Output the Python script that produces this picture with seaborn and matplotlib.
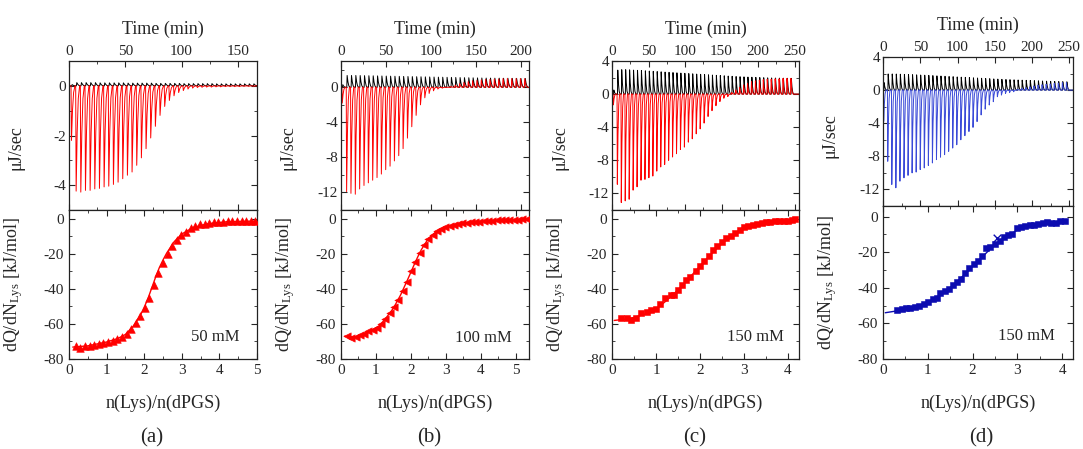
import numpy as np
import pandas as pd
import seaborn as sns
import matplotlib.pyplot as plt
from matplotlib.ticker import MultipleLocator

sns.set_style("ticks")
plt.rcParams['font.family'] = ['Liberation Serif', 'DejaVu Serif']
plt.rcParams['mathtext.default'] = 'regular'
plt.rcParams['axes.unicode_minus'] = False

# ---- raw ITC thermograms: peak height of each injection (uJ/sec) ----
a_start, a_interval = 1.8, 4.14
a_sample = [-2.2, -4.24, -4.28, -4.21, -4.21, -4.15, -4.13, -4.07, -4.04, -3.97,
            -3.88, -3.74, -3.6, -3.47, -3.2, -2.9, -2.53, -2.1, -1.63, -1.19,
            -0.83, -0.59, -0.4, -0.27, -0.19, -0.13, -0.09, -0.07, -0.06, -0.05,
            -0.05, -0.04, -0.04, -0.03, -0.03, -0.03, -0.03, -0.02, -0.02, -0.02]
a_reference = [0.05, 0.13, 0.13, 0.13, 0.13, 0.13, 0.12, 0.12, 0.12, 0.12,
               0.12, 0.12, 0.11, 0.11, 0.11, 0.11, 0.11, 0.11, 0.10, 0.10,
               0.10, 0.10, 0.10, 0.10, 0.09, 0.09, 0.09, 0.09, 0.09, 0.09,
               0.09, 0.08, 0.08, 0.08, 0.08, 0.08, 0.08, 0.08, 0.08, 0.08]

b_start, b_interval = 1.0, 4.83
b_sample = [-1.8, -11.9, -12.1, -12.2, -11.6, -11.2, -10.9, -10.6, -10.3, -9.9,
            -9.4, -9.0, -8.4, -7.8, -7.0, -5.8, -4.5, -3.2, -2.0, -1.2,
            -0.7, -0.4, -0.2, -0.1, 0.0, 0.1, 0.25, 0.4, 0.55, 0.65,
            0.75, 0.8, 0.85, 0.9, 0.9, 0.95, 0.95, 1.0, 1.0, 1.0, 1.0, 1.0, 1.0]
b_reference = [0.3, 1.35, 1.35, 1.35, 1.34, 1.33, 1.32, 1.31, 1.30, 1.29,
               1.28, 1.27, 1.26, 1.25, 1.24, 1.23, 1.22, 1.21, 1.20, 1.19,
               1.18, 1.17, 1.16, 1.15, 1.14, 1.13, 1.12, 1.11, 1.10, 1.09,
               1.08, 1.07, 1.06, 1.05, 1.05, 1.04, 1.04, 1.03, 1.03, 1.02,
               1.02, 1.01, 1.01]

c_start, c_interval = 1.5, 5.4
c_sample = [-1.3, -10.9, -13.1, -12.9, -12.7, -11.6, -11.2, -10.4, -10.3, -10.1,
            -9.9, -9.3, -8.8, -8.5, -8.0, -7.6, -7.2, -6.7, -6.4, -5.8,
            -5.4, -4.8, -4.2, -3.5, -2.7, -2.0, -1.4, -0.9, -0.5, -0.3,
            0.2, 0.5, 0.8, 1.1, 1.3, 1.5, 1.6, 1.7, 1.75, 1.8,
            1.8, 1.85, 1.85, 1.9, 1.9, 1.9]
c_reference = [0.5, 2.9, 2.95, 2.95, 2.93, 2.9, 2.87, 2.84, 2.81, 2.78,
               2.75, 2.72, 2.69, 2.66, 2.63, 2.6, 2.57, 2.54, 2.51, 2.48,
               2.45, 2.42, 2.39, 2.36, 2.33, 2.30, 2.27, 2.24, 2.21, 2.18,
               2.15, 2.12, 2.10, 2.08, 2.06, 2.04, 2.02, 2.0, 1.98, 1.96,
               1.95, 1.94, 1.93, 1.92, 1.91, 1.90]

d_start, d_interval = 0.5, 5.45
d_sample = [-3.8, -8.6, -11.4, -11.8, -11.0, -10.6, -10.3, -10.0, -9.9, -9.6,
            -9.4, -9.1, -8.8, -8.4, -8.1, -7.8, -7.4, -7.0, -6.6, -6.0,
            -5.5, -5.0, -4.5, -3.8, -3.0, -2.3, -1.8, -1.4, -0.8, -0.6,
            -0.4, -0.3, -0.2, 0.1, 0.2, 0.3, 0.4, 0.5, 0.6, 0.65,
            0.7, 0.75, 0.8, 0.85, 0.9, 0.9]
d_reference = [0.9, 1.95, 1.95, 1.94, 1.92, 1.90, 1.88, 1.86, 1.84, 1.82,
               1.80, 1.78, 1.75, 1.72, 1.70, 1.67, 1.64, 1.62, 1.59, 1.56,
               1.54, 1.51, 1.48, 1.46, 1.43, 1.40, 1.38, 1.35, 1.33, 1.30,
               1.28, 1.26, 1.24, 1.22, 1.20, 1.18, 1.16, 1.14, 1.12, 1.10,
               1.08, 1.06, 1.04, 1.03, 1.02, 1.00]

# ---- integrated heats (kJ/mol) vs molar ratio ----
a_ratio = [0.18, 0.30, 0.42, 0.55, 0.67, 0.79, 0.91, 1.04, 1.16, 1.28,
           1.40, 1.53, 1.65, 1.77, 1.89, 2.02, 2.14, 2.26, 2.38, 2.50,
           2.63, 2.75, 2.87, 2.99, 3.12, 3.24, 3.36, 3.48, 3.61, 3.73,
           3.85, 3.97, 4.10, 4.22, 4.34, 4.46, 4.59, 4.71, 4.83, 4.95]
a_heat = [-72.5, -73.5, -72.8, -72.3, -71.8, -71.5, -70.8, -70.2, -69.5, -68.8,
          -67.5, -65.5, -63.0, -59.5, -55.5, -51.0, -45.0, -38.0, -31.0, -25.0,
          -20.0, -15.5, -12.0, -9.5, -7.5, -5.5, -4.0, -3.2, -2.8, -2.3,
          -2.0, -1.8, -1.6, -1.5, -1.3, -1.0, -1.3, -1.4, -1.4, -1.3]
a_fit_x = [0.1, 0.5, 1.0, 1.3, 1.5, 1.7, 1.9, 2.0, 2.1, 2.2,
           2.3, 2.4, 2.5, 2.6, 2.8, 3.0, 3.3, 3.7, 4.2, 5.0]
a_fit_y = [-73.2, -72.5, -70.3, -68.3, -66.0, -61.5, -55.0, -50.5, -45.5, -39.5,
           -33.5, -28.0, -23.5, -19.5, -13.0, -8.7, -5.0, -2.8, -1.7, -1.3]

b_ratio = [0.17, 0.29, 0.42, 0.54, 0.66, 0.78, 0.91, 1.03, 1.15, 1.27,
           1.39, 1.52, 1.64, 1.76, 1.88, 2.01, 2.13, 2.25, 2.37, 2.49,
           2.62, 2.74, 2.86, 2.98, 3.11, 3.23, 3.35, 3.47, 3.60, 3.72,
           3.84, 3.96, 4.08, 4.21, 4.33, 4.45, 4.57, 4.70, 4.82, 4.94,
           5.06, 5.19, 5.31]
b_heat = [-67.0, -67.8, -67.5, -66.5, -65.5, -64.3, -63.5, -62.5, -60.0, -57.0,
          -54.0, -50.5, -46.5, -41.0, -36.0, -30.0, -24.5, -19.5, -15.0, -11.5,
          -9.0, -7.0, -5.8, -4.8, -4.0, -3.5, -3.0, -2.7, -2.4, -2.1,
          -1.9, -1.7, -1.5, -1.2, -1.0, -0.9, -0.8, -0.7, -0.6, -0.5,
          -0.5, -0.4, -0.4]
b_fit_x = [0.1, 0.4, 0.8, 1.1, 1.3, 1.5, 1.7, 1.9, 2.0, 2.1,
           2.2, 2.3, 2.5, 2.7, 2.9, 3.2, 3.6, 4.2, 5.38]
b_fit_y = [-67.0, -67.5, -64.5, -61.0, -56.3, -51.0, -43.7, -35.0, -30.5, -25.9,
           -21.6, -17.6, -11.3, -7.7, -5.5, -3.6, -2.2, -1.2, -0.4]

c_ratio = [0.20, 0.34, 0.44, 0.54, 0.65, 0.79, 0.88, 0.99, 1.10, 1.20,
           1.33, 1.40, 1.50, 1.60, 1.69, 1.78, 1.90, 1.99, 2.08, 2.20,
           2.29, 2.38, 2.50, 2.59, 2.70, 2.80, 2.90, 3.00, 3.10, 3.20,
           3.30, 3.40, 3.50, 3.60, 3.70, 3.80, 3.90, 4.00, 4.10, 4.17]
c_heat = [-56.6, -56.6, -57.6, -56.6, -53.8, -53.2, -52.3, -51.5, -48.5, -45.0,
          -43.3, -43.3, -40.5, -37.6, -34.8, -33.3, -30.0, -27.2, -24.3, -21.0,
          -17.7, -15.8, -13.5, -11.0, -9.7, -8.2, -6.3, -4.8, -4.0, -3.6,
          -3.0, -2.5, -2.1, -1.9, -1.5, -1.3, -1.1, -1.0, -0.6, -0.2]
c_fit_x = [0.05, 0.4, 0.8, 1.0, 1.2, 1.4, 1.6, 1.8, 2.0, 2.2,
           2.4, 2.6, 2.8, 3.0, 3.2, 3.5, 3.8, 4.2]
c_fit_y = [-58.0, -57.0, -54.0, -51.5, -47.5, -43.0, -38.0, -32.5, -27.0, -21.5,
           -16.5, -12.0, -8.5, -5.5, -3.8, -2.3, -1.4, -0.6]

d_ratio = [0.32, 0.42, 0.52, 0.60, 0.72, 0.81, 0.92, 1.01, 1.11, 1.20,
           1.28, 1.38, 1.48, 1.56, 1.65, 1.75, 1.84, 1.93, 2.02, 2.12,
           2.21, 2.30, 2.39, 2.49, 2.60, 2.69, 2.78, 2.88, 2.98, 3.08,
           3.17, 3.28, 3.37, 3.47, 3.57, 3.67, 3.76, 3.87, 3.96, 4.07]
d_heat = [-52.4, -51.9, -51.1, -51.5, -50.6, -50.2, -49.3, -47.8, -46.4, -45.5,
          -42.7, -41.6, -40.8, -38.4, -36.5, -35.2, -31.5, -29.0, -26.8, -24.9,
          -22.1, -17.8, -16.9, -15.4, -13.5, -11.6, -10.3, -9.7, -6.6, -6.0,
          -5.1, -4.7, -4.5, -4.1, -3.7, -3.2, -3.7, -3.7, -2.4, -2.2]
d_fit_x = [0.05, 0.3, 0.6, 0.9, 1.2, 1.5, 1.8, 2.0, 2.2, 2.4,
           2.6, 2.8, 3.0, 3.3, 3.6, 4.1]
d_fit_y = [-54.0, -53.0, -51.5, -49.5, -45.5, -40.0, -33.0, -28.0, -23.0, -18.0,
           -14.0, -10.5, -7.5, -5.0, -3.7, -2.4]
d_excluded = ([2.54], [-12.0])

concentrations = ["50 mM", "100 mM", "150 mM", "150 mM"]
panel_tags = ["(a)", "(b)", "(c)", "(d)"]

W, H = 1083, 449
fig = plt.figure(figsize=(W / 100, H / 100), dpi=100)


def box(left, right, top, bottom):
    return [left / W, 1 - bottom / H, (right - left) / W, (bottom - top) / H]


def thermogram(start, interval, peaks, end, shift=0.0):
    t, p = [0.0], [0.0]
    for i, h in enumerate(peaks):
        ti = start + i * interval + shift
        t += [ti, ti + 0.4, ti + 1.3, ti + 2.3, ti + 3.5]
        p += [0.0, h, 0.45 * h, 0.12 * h, 0.0]
    t.append(end)
    p.append(0.0)
    return pd.DataFrame({"time": t, "power": p})


def style(ax, top_axis):
    ax.tick_params(which="both", direction="in", top=True, right=True,
                   bottom=True, left=True, labelsize=11, pad=3.5)
    ax.tick_params(which="major", length=4, width=0.8)
    ax.tick_params(which="minor", length=2.2, width=0.6)
    if top_axis:
        ax.tick_params(labeltop=True, labelbottom=False, pad=2)
    for s in ax.spines.values():
        s.set_linewidth(0.9)
        s.set_color("#222222")


layout = [
    dict(l=69, r=257, t=61, m=210, b=359, tmax=167, ylim=(-5, 1), ymaj=2, ymin=1,
         tmaj=50, rmax=5.0, hmax=5, line="red", dot="red", mk="^", ms=30, ylab=0.416,
         data=(a_start, a_interval, a_sample, a_reference), heat=(a_ratio, a_heat, a_fit_x, a_fit_y),
         txt=(3.9, -67.5), tag=152),
    dict(l=341, r=529, t=61, m=210, b=359, tmax=209, ylim=(-14, 3), ymaj=4, ymin=2,
         tmaj=50, rmax=5.38, hmax=5, line="red", dot="red", mk="<", ms=28, ylab=0.416,
         data=(b_start, b_interval, b_sample, b_reference), heat=(b_ratio, b_heat, b_fit_x, b_fit_y),
         txt=(4.07, -68), tag=429),
    dict(l=612, r=799, t=61, m=210, b=359, tmax=256, ylim=(-14, 4), ymaj=4, ymin=2,
         tmaj=50, rmax=4.25, hmax=5, line="red", dot="red", mk="s", ms=22, ylab=0.416,
         data=(c_start, c_interval, c_sample, c_reference), heat=(c_ratio, c_heat, c_fit_x, c_fit_y),
         txt=(3.25, -67.7), tag=695),
    dict(l=883, r=1073, t=57, m=206, b=359, tmax=255, ylim=(-14, 4), ymaj=4, ymin=2,
         tmaj=50, rmax=4.24, hmax=6, line="#3a4ad8", dot="#0c0cb0", mk="s", ms=22, ylab=0.476,
         data=(d_start, d_interval, d_sample, d_reference), heat=(d_ratio, d_heat, d_fit_x, d_fit_y),
         txt=(3.19, -67), tag=981),
]

for k, p in enumerate(layout):
    w = p["r"] - p["l"]
    # ---- top: raw heat flow ----
    ax1 = fig.add_axes(box(p["l"], p["r"], p["t"], p["m"]))
    start, interval, sample, reference = p["data"]
    ref_df = thermogram(start, interval, reference, p["tmax"], shift=0.6)
    smp_df = thermogram(start, interval, sample, p["tmax"])
    sns.lineplot(data=ref_df, x="time", y="power", sort=False, estimator=None,
                 color="black", lw=0.7, ax=ax1)
    sns.lineplot(data=smp_df, x="time", y="power", sort=False, estimator=None,
                 color=p["line"], lw=0.7, ax=ax1)
    ax1.set_xlim(0, p["tmax"])
    ax1.set_ylim(*p["ylim"])
    ax1.xaxis.set_major_locator(MultipleLocator(p["tmaj"]))
    ax1.xaxis.set_minor_locator(MultipleLocator(p["tmaj"] / 2))
    ax1.yaxis.set_major_locator(MultipleLocator(p["ymaj"]))
    ax1.yaxis.set_minor_locator(MultipleLocator(p["ymin"]))
    ax1.xaxis.set_label_position("top")
    ax1.set_xlabel("Time (min)", fontsize=13)
    ax1.xaxis.set_label_coords(0.5, 1 + 27 / (p["m"] - p["t"]))
    ax1.set_ylabel("μJ/sec", fontsize=13)
    ax1.yaxis.set_label_coords(-44 / w, p["ylab"])
    style(ax1, True)

    # ---- bottom: integrated heats ----
    ax2 = fig.add_axes(box(p["l"], p["r"], p["m"], p["b"]))
    ratio, heat, fx, fy = p["heat"]
    mcol = p["dot"]
    sns.lineplot(x=fx, y=fy, sort=False, estimator=None, color=mcol, lw=1.0, ax=ax2)
    sns.scatterplot(x=ratio, y=heat, marker=p["mk"], s=p["ms"], color=mcol,
                    edgecolor=mcol, linewidth=0.4, ax=ax2, zorder=3)
    if k == 3:
        sns.scatterplot(x=d_excluded[0], y=d_excluded[1], marker="x", s=30,
                        color=mcol, linewidth=1.0, ax=ax2, zorder=3)
    ax2.set_xlim(0, p["rmax"])
    ax2.set_ylim(-80, p["hmax"])
    ax2.xaxis.set_major_locator(MultipleLocator(1))
    ax2.xaxis.set_minor_locator(MultipleLocator(0.5))
    ax2.yaxis.set_major_locator(MultipleLocator(20))
    ax2.yaxis.set_minor_locator(MultipleLocator(10))
    ax2.set_xlabel("n(Lys)/n(dPGS)", fontsize=13)
    ax2.xaxis.set_label_coords(0.5, -36 / (p["b"] - p["m"]))
    ax2.set_ylabel(r"dQ/dN$_{Lys}$ [kJ/mol]", fontsize=13)
    ax2.yaxis.set_label_coords(-44 / w, 0.5)
    ax2.text(p["txt"][0], p["txt"][1], concentrations[k], fontsize=12,
             ha="center", va="center")
    style(ax2, False)

    fig.text(p["tag"] / W, 1 - 438 / H, panel_tags[k], fontsize=15,
             ha="center", va="center")

fig.savefig("out.png", dpi=100)
plt.close(fig)
